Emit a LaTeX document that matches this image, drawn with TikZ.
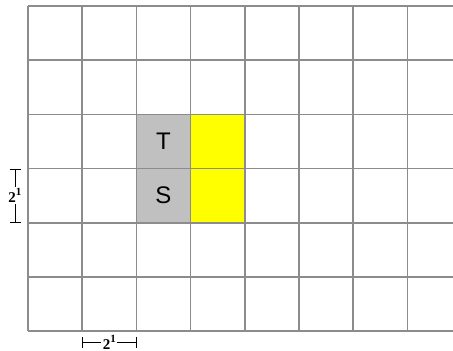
\documentclass[tikz,border=0pt]{standalone}
\usepackage{fontspec}
\setmainfont{Liberation Serif}
\newfontfamily\cellfont{Liberation Sans}
\usetikzlibrary{arrows.meta}
\definecolor{gridgray}{HTML}{8C8C8C}
\definecolor{cellgray}{HTML}{C0C0C0}
\definecolor{cellyellow}{HTML}{FFFF00}

\begin{document}
\begin{tikzpicture}[
  x=1pt, y=-1pt,
  gridline/.style={gridgray, line width=1.7pt},
  cellbox/.style={minimum size=54.2pt, inner sep=0pt, outer sep=0pt,
    font=\cellfont\fontsize{24}{24}\selectfont},
  dimline/.style={{Bar[width=11pt]}-{Bar[width=11pt]}, thin},
  dimlbl/.style={fill=white, inner sep=1.5pt, font=\fontsize{15}{15}\selectfont\bfseries}
]
\useasboundingbox (0,0) rectangle (453,351);

%========== grid of cells ==========
\def\M{54.2}\def\xo{28}\def\yo{6}
% shaded cells (column 3, rows 3 and 4)
\node[cellbox, fill=cellgray, anchor=north west] (T) at (\xo+2*\M, \yo+2*\M) {T};
\node[cellbox, fill=cellgray, anchor=north west] (S) at (\xo+2*\M, \yo+3*\M) {S};
\node[cellbox, fill=cellyellow, anchor=north west] (Ty) at (\xo+3*\M, \yo+2*\M) {};
\node[cellbox, fill=cellyellow, anchor=north west] (Sy) at (\xo+3*\M, \yo+3*\M) {};
% grid lines, open to the right
\foreach \i in {0,...,7}{\draw[gridline] (\xo+\i*\M, \yo) -- (\xo+\i*\M, \yo+6*\M);}
\foreach \j in {0,...,6}{\draw[gridline] (\xo, \yo+\j*\M) -- (453, \yo+\j*\M);}

%========== dimension marks ==========
\coordinate (vtop) at (15, \yo+3*\M);
\coordinate (vbot) at (15, \yo+4*\M);
\draw[dimline] (vtop) -- node[dimlbl] (vlbl) {2\raisebox{0.45em}{\fontsize{11}{11}\selectfont 1}} (vbot);
\coordinate (hleft) at (\xo+\M, 342);
\coordinate (hright) at (\xo+2*\M, 342);
\draw[dimline] (hleft) -- node[dimlbl] (hlbl) {2\raisebox{0.45em}{\fontsize{11}{11}\selectfont 1}} (hright);
\end{tikzpicture}
\end{document}
